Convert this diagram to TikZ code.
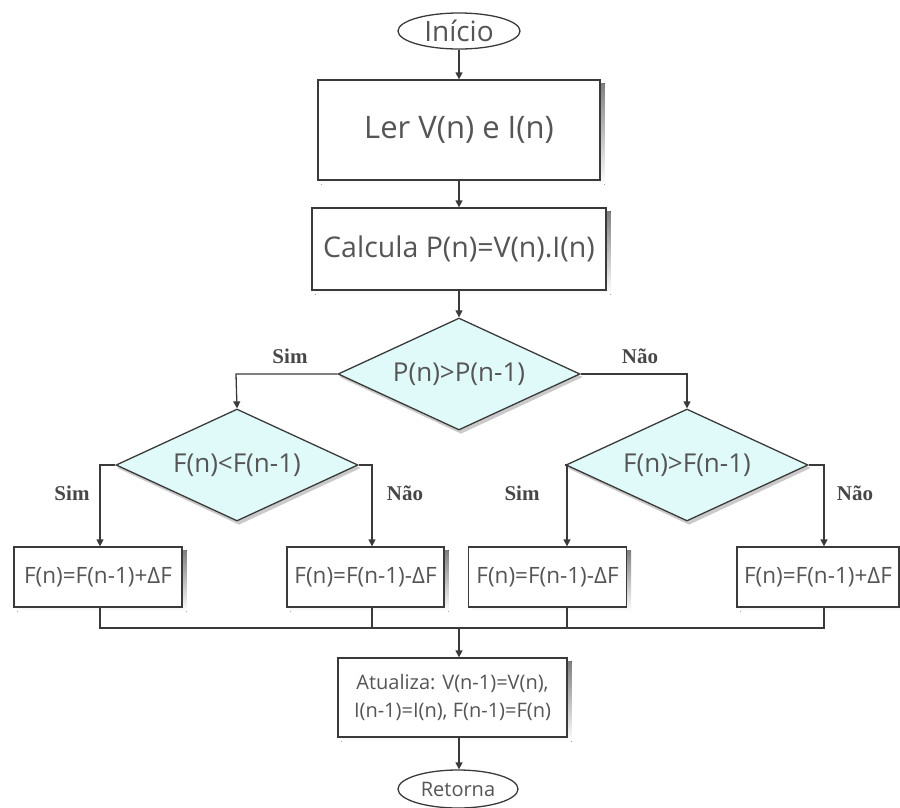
\documentclass[tikz,border=0pt]{standalone}
\usepackage{fontspec}
\setmainfont{Open Sans}
\newfontfamily\labelfont{Liberation Serif}
\usetikzlibrary{shapes.geometric,arrows.meta,backgrounds}
\definecolor{ink}{HTML}{3A3A3A}
\definecolor{txt}{HTML}{555555}
\definecolor{decfill}{HTML}{E0FAFA}
\definecolor{shade}{HTML}{B4B4B4}
\tikzset{
  base/.style={draw=ink, line width=1.3pt, text=txt, inner sep=0pt, align=center},
  terminal/.style={base, ellipse, fill=white},
  procbox/.style={base, rectangle, fill=white},
  decision/.style={base, diamond, fill=decfill, minimum width=242pt, minimum height=112pt},
  dtext/.style={text=txt, font=\fontsize{26}{26}\selectfont},
  flow/.style={draw=ink, line width=1.3pt, -{Triangle[length=7pt,width=7pt]}},
  link/.style={draw=ink, line width=1.3pt},
  branch/.style={font=\labelfont\bfseries\fontsize{21}{21}\selectfont, text=black!72}
}
\begin{document}
\begin{tikzpicture}[x=1pt,y=-1pt]
\useasboundingbox (0,0) rectangle (900,807);

% start and read/compute steps
\node[terminal, minimum width=122pt, minimum height=36pt, font=\fontsize{28}{28}\selectfont] (start) at (459,31) {Início};
\node[procbox, minimum width=282pt, minimum height=100pt, font=\fontsize{31}{31}\selectfont] (read) at (459,130) {Ler V(n) e I(n)};
\node[procbox, minimum width=294pt, minimum height=82pt, font=\fontsize{28.5}{28.5}\selectfont] (calc) at (459,249) {Calcula P(n)=V(n).I(n)};

% decisions (text set as a centred label so the outline keeps its size)
\node[decision, label={[dtext]center:P(n)>P(n-1)}] (dp) at (459,374) {};
\node[decision, label={[dtext]center:F(n)<F(n-1)}] (dl) at (237,465) {};
\node[decision, label={[dtext]center:F(n)>F(n-1)}] (dr) at (687,465) {};

% frequency updates
\node[procbox, minimum width=168pt, minimum height=60pt, font=\fontsize{22.5}{22.5}\selectfont] (fa) at (98,577) {F(n)=F(n-1)+ΔF};
\node[procbox, minimum width=157pt, minimum height=60pt, font=\fontsize{22.5}{22.5}\selectfont] (fb) at (365.5,577) {F(n)=F(n-1)-ΔF};
\node[procbox, minimum width=158pt, minimum height=60pt, font=\fontsize{22.5}{22.5}\selectfont] (fc) at (547.5,577) {F(n)=F(n-1)-ΔF};
\node[procbox, minimum width=162pt, minimum height=60pt, font=\fontsize{22.5}{22.5}\selectfont] (fd) at (818,577) {F(n)=F(n-1)+ΔF};

% update and return
\node[procbox, minimum width=229pt, minimum height=79pt, font=\fontsize{20}{28}\selectfont] (upd) at (452.5,697.5) {Atualiza: V(n-1)=V(n),\\ I(n-1)=I(n), F(n-1)=F(n)};
\node[terminal, minimum width=120pt, minimum height=38pt, font=\fontsize{20}{20}\selectfont] (ret) at (458,789) {Retorna};

% drop shadows behind boxes and diamonds
\begin{scope}[on background layer]
  \foreach \b in {read,calc,fa,fb,fc,fd,upd}
    \fill[shade] ([shift={(4,4)}]\b.north west) rectangle ([shift={(4,4)}]\b.south east);
  \foreach \d in {dp,dl,dr}
    \fill[shade!70] ([shift={(2,3)}]\d.north) -- ([shift={(2,3)}]\d.east)
      -- ([shift={(2,3)}]\d.south) -- ([shift={(2,3)}]\d.west) -- cycle;
\end{scope}

% junction points
\coordinate (lj) at (236,374);
\coordinate (rj) at (687,374);
\coordinate (la) at (100,465);
\coordinate (lb) at (372,465);
\coordinate (ra) at (567,465);
\coordinate (rb) at (824,465);
\coordinate (ma) at (100,628);
\coordinate (mb) at (372,628);
\coordinate (mc) at (567,628);
\coordinate (md) at (824,628);
\coordinate (mm) at (459,628);

% main line
\draw[flow] (start) -- (read);
\draw[flow] (read) -- (calc);
\draw[flow] (calc) -- (dp);

% first decision
\draw[flow] (dp.west) -- (lj) -- (dl.north);
\draw[flow] (dp.east) -- (rj) -- (dr.north);

% second-level decisions
\draw[flow] (dl.west) -- (la) -- (la |- fa.north);
\draw[flow] (dl.east) -- (lb) -- (lb |- fb.north);
\draw[flow] (dr.west) -- (ra) -- (ra |- fc.north);
\draw[flow] (dr.east) -- (rb) -- (rb |- fd.north);

% merge
\draw[link] (ma |- fa.south) -- (ma) -- (md) -- (md |- fd.south);
\draw[link] (mb |- fb.south) -- (mb);
\draw[link] (mc |- fc.south) -- (mc);
\draw[flow] (mm) -- (mm |- upd.north);
\draw[flow] (mm |- upd.south) -- (mm |- ret.north);

% branch labels
\node[branch] at (290,356) {Sim};
\node[branch] at (640,356) {Não};
\node[branch] at (72,493) {Sim};
\node[branch] at (405,493) {Não};
\node[branch] at (522,493) {Sim};
\node[branch] at (855,493) {Não};
\end{tikzpicture}
\end{document}
